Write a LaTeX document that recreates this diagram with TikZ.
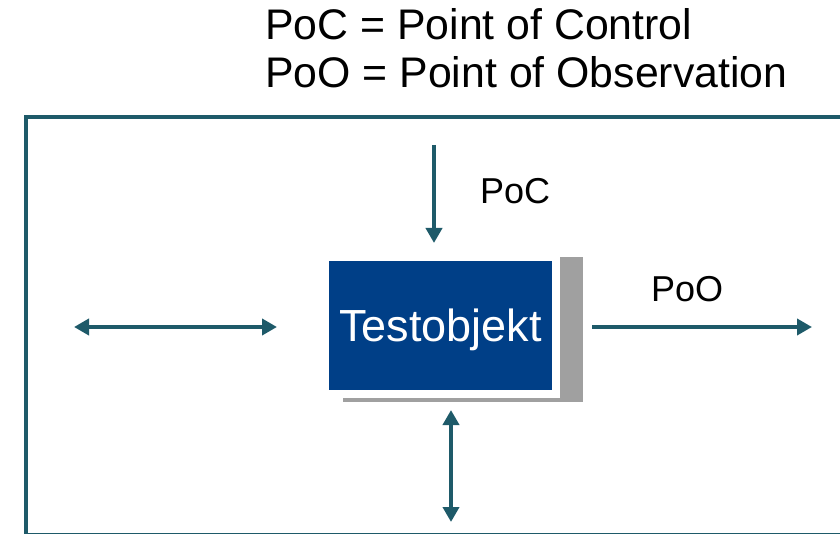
\documentclass[tikz,border=0pt]{standalone}
\usepackage{fontspec}
\setmainfont{Liberation Sans}
\usetikzlibrary{arrows.meta}
\definecolor{linkteal}{HTML}{1E5A69}
\definecolor{objblue}{HTML}{003F87}
\definecolor{shadegray}{HTML}{A0A0A0}
\begin{document}
\begin{tikzpicture}
        [x=1pt,y=-1pt,
         link/.style={draw=linkteal,line width=4pt},
         ptip/.tip={Triangle[length=15pt,width=16pt]},
         lbl/.style={inner sep=0pt,anchor=base west,font=\fontsize{36}{40}\selectfont}]
        \useasboundingbox (0,0) rectangle (840,534);
        \node[lbl,font=\fontsize{42.8}{48}\selectfont] (defC) at (265,40) {PoC = Point of Control};
        \node[lbl,font=\fontsize{42.8}{48}\selectfont] (defO) at (265,88) {PoO = Point of Observation};

        % frame
        \draw[linkteal,line width=4pt] (26,117) rectangle (860,535);

        % object with shadow
        \fill[shadegray] (343,257) rectangle (583,402);
        \fill[white] (329,257) rectangle (560,398);
        \node[fill=objblue,text=white,minimum width=223pt,minimum height=129pt,inner sep=0pt,
              text depth=0pt,font=\fontsize{45}{48}\selectfont] (obj) at (440.5,325.5) {Testobjekt};

        \coordinate (pocIn) at (434,145);
        \coordinate (pocEnd) at (434,243);
        \coordinate (leftA) at (74,327);
        \coordinate (leftB) at (277,327);
        \coordinate (pooEnd) at (812,327);
        \coordinate (downA) at (451,410);
        \coordinate (downB) at (451,522);

        \draw[link,-{ptip}] (pocIn) -- (pocEnd);
        \draw[link,{ptip}-{ptip}] (leftA) -- (leftB);
        \draw[link,-{ptip}] ([xshift=40pt]obj.east |- pooEnd) -- (pooEnd);
        \draw[link,{ptip}-{ptip}] (downA) -- (downB);

        \node[lbl] (pocL) at (480,204) {PoC};
        \node[lbl] (pooL) at (651,302) {PoO};
      \end{tikzpicture}
\end{document}
